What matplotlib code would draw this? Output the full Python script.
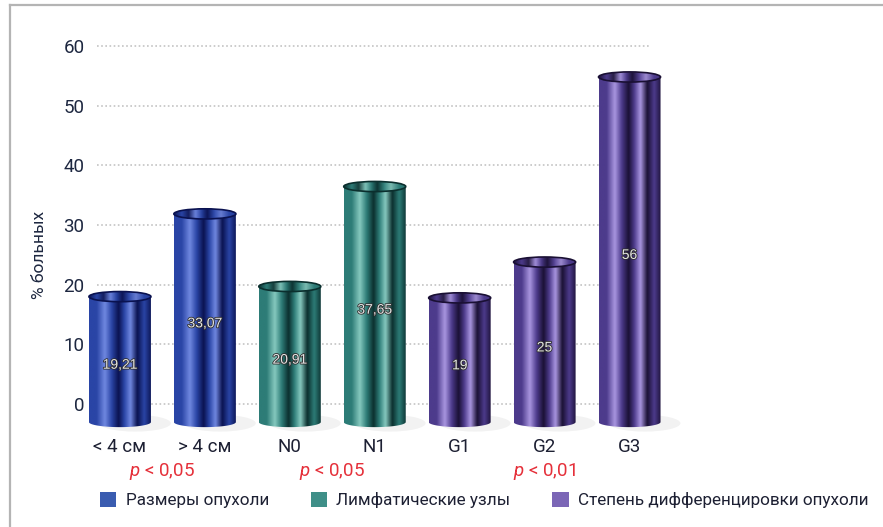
import numpy as np
import matplotlib
matplotlib.use("Agg")
import matplotlib.pyplot as plt
from matplotlib.colors import LinearSegmentedColormap
from matplotlib.patches import Polygon, Ellipse, Patch
from matplotlib.lines import Line2D
import matplotlib.transforms as mtransforms
import matplotlib.patheffects as pe

# шрифты
plt.rcParams['font.family'] = ['Roboto', 'DejaVu Sans']
plt.rcParams['mathtext.fontset'] = 'custom'
plt.rcParams['mathtext.it'] = 'Roboto:italic'
plt.rcParams['mathtext.rm'] = 'Roboto'

# ---------------- данные ----------------
categories = ["< 4 см", "> 4 см", "N0", "N1", "G1", "G2", "G3"]
values = [19.21, 33.07, 20.91, 37.65, 19, 25, 56]
value_labels = ["19,21", "33,07", "20,91", "37,65", "19", "25", "56"]
groups = [0, 0, 1, 1, 2, 2, 2]
group_names = ["Размеры опухоли", "Лимфатические узлы",
               "Степень дифференцировки опухоли"]
p_labels = [r"$p$ < 0,05", r"$p$ < 0,05", r"$p$ < 0,01"]
yticks = [0, 10, 20, 30, 40, 50, 60]

# цвета групп: (тёмный, средний, светлый) и цвет легенды
group_shades = [
    ("#0a1250", "#2a45a6", "#7088e0"),
    ("#0b2f2e", "#2d7c77", "#86c9bf"),
    ("#1a1034", "#4d3b8c", "#a996e0"),
]
legend_colors = ["#3a5cb0", "#3f8f88", "#7b66b6"]

W, H = 883, 527
fig = plt.figure(figsize=(W / 100, H / 100), dpi=100)
ax = fig.add_axes([97 / W, 93 / H, 575 / W, 400 / H])
for s in ax.spines.values():
    s.set_visible(False)

# пунктирная сетка
for t in yticks:
    ax.plot([-0.27, 6.24], [t, t], ls=(0, (1, 1.5)), color="#c4c4c4",
            lw=1.2, zorder=0)

ax.set_yticks(yticks)
ax.set_yticklabels([str(t) for t in yticks])
ax.tick_params(axis='y', length=0, pad=9, labelsize=13.5, labelcolor="#1d2740")
xs = np.arange(len(categories))
ax.set_xticks(xs)
ax.set_xticklabels(categories)
ax.tick_params(axis='x', length=0, pad=3, labelsize=13.5, labelcolor="#1d2033")

# ---------------- цилиндры ----------------
bw = 0.73
bottom = -3.0
eh = 0.85  # полувысота эллипса в единицах оси


def make_cmap(dark, mid, light):
    stops = [(0.0, mid), (0.12, mid), (0.25, light), (0.36, mid),
             (0.47, dark), (0.56, mid), (0.66, light), (0.77, dark),
             (0.88, mid), (1.0, dark)]
    return LinearSegmentedColormap.from_list("cyl", stops)


grad = np.linspace(0, 1, 300).reshape(1, -1)
th_low = np.linspace(np.pi, 2 * np.pi, 60)
th_up = np.linspace(0, np.pi, 60)
for x, v, g, lab in zip(xs, values, groups, value_labels):
    cmap = make_cmap(*group_shades[g])
    x0, x1 = x - bw / 2, x + bw / 2
    top = v - 1.2
    # тень
    sh = Ellipse((x + 0.18, bottom - 0.2), bw * 1.15, 2.8,
                 color="#000000", alpha=0.05, lw=0, zorder=1)
    ax.add_patch(sh)
    sh.set_clip_on(False)
    low = [(x + bw / 2 * np.cos(t), bottom + eh * np.sin(t)) for t in th_low]
    up = [(x + bw / 2 * np.cos(t), top + eh * np.sin(t)) for t in th_up]
    body = Polygon(low + up, closed=True, fc="none", ec="none")
    ax.add_patch(body)
    im = ax.imshow(grad, cmap=cmap, extent=(x0, x1, bottom - 1, top + 1),
                   aspect='auto', interpolation='bicubic', zorder=2)
    im.set_clip_path(body)
    im.set_clip_box(fig.bbox)
    # верхний эллипс
    cap = Ellipse((x, top), bw, 2 * eh, fc="none", ec="none")
    ax.add_patch(cap)
    im2 = ax.imshow(grad[:, ::-1], cmap=cmap, extent=(x0, x1, top - 1, top + 1),
                    aspect='auto', interpolation='bicubic', zorder=3, alpha=0.9)
    im2.set_clip_path(cap)
    im2.set_clip_box(fig.bbox)
    rim = Ellipse((x, top), bw, 2 * eh, fc="none",
                  ec=group_shades[g][0], lw=1.2, zorder=4)
    ax.add_patch(rim)
    rim.set_clip_on(False)
    # подпись значения
    ax.text(x, (bottom + v) / 2 - 1.5, lab, ha='center', va='center',
            fontsize=10, color="#e4e4e4", family='Liberation Sans', zorder=5,
            path_effects=[pe.withStroke(linewidth=1.2, foreground="#2e2e2e")])

ax.set_xlim(-0.27, 6.5)
ax.set_ylim(-5, 62)

# p-значения под группами
trans = mtransforms.blended_transform_factory(ax.transData, fig.transFigure)
for gi, pl in enumerate(p_labels):
    gx = np.mean([x for x, g in zip(xs, groups) if g == gi])
    ax.text(gx, 1 - 472 / H, pl, transform=trans, ha='center', va='center',
            fontsize=13.5, color="#e5303a", clip_on=False)

# подпись оси Y
fig.text(40 / W, 1 - 255 / H, "% больных", rotation=90, ha='center',
         va='center', fontsize=12.5, color="#1d2740")

# легенда
handles = [Patch(fc=c, ec='none') for c in legend_colors]
fig.legend(handles, group_names, loc='center left', ncol=3,
           bbox_to_anchor=(100 / W, 27 / H), frameon=False, borderpad=0,
           borderaxespad=0, handlelength=0.95, handleheight=0.95,
           handletextpad=0.55, columnspacing=2.45, fontsize=12.3,
           labelcolor="#1d2033")

# рамка
fig.add_artist(Line2D([10 / W, 1], [1 - 5 / H, 1 - 5 / H], color="#b4b4b4",
                      lw=1.6, transform=fig.transFigure))
fig.add_artist(Line2D([10 / W, 10 / W], [0, 1 - 5 / H], color="#b4b4b4",
                      lw=1.6, transform=fig.transFigure))

fig.savefig("out.png", dpi=100)
